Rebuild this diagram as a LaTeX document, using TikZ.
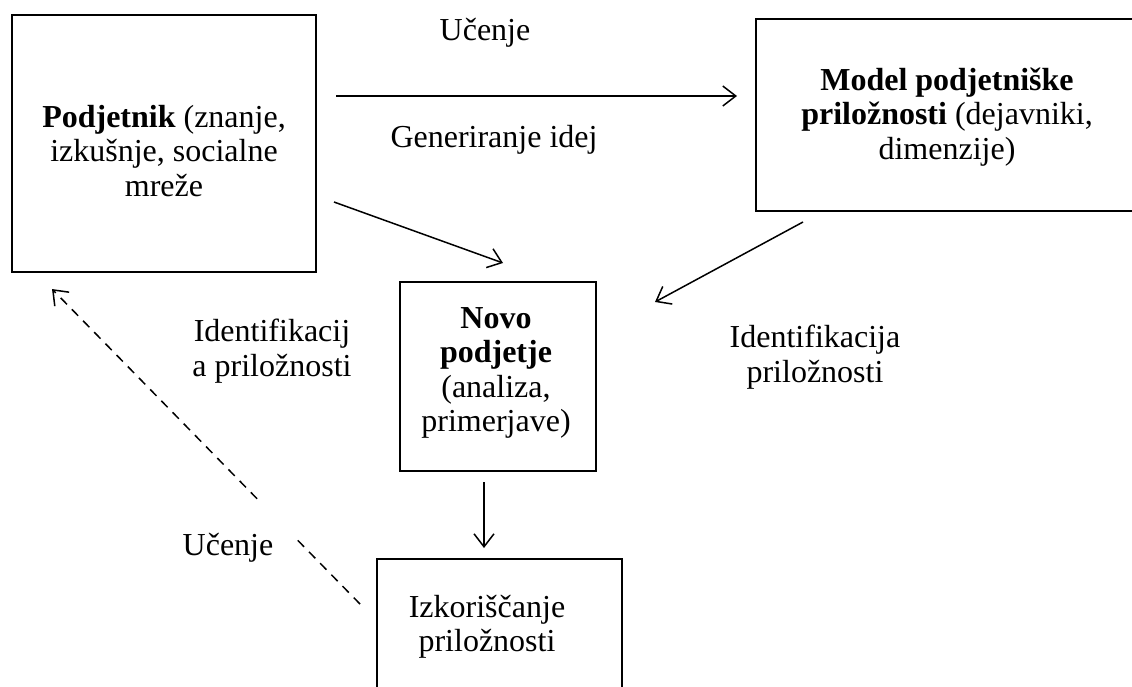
\documentclass[tikz,border=0pt]{standalone}
\usepackage{fontspec}
\setmainfont{Liberation Serif}
\usetikzlibrary{arrows.meta,calc}

\tikzset{
  boxnode/.style={draw=black, line width=1.5pt, rectangle, inner sep=0pt},
  txt/.style={align=center, inner sep=0pt, font=\fontsize{32}{34.5}\selectfont},
  tip/.style={-{Straight Barb[length=13pt,width=20pt,line width=1.5pt]}},
  conn/.style={line width=1.5pt, tip},
  dashline/.style={line width=1.5pt, dash pattern=on 9pt off 7pt}
}

\begin{document}
\begin{tikzpicture}[x=1pt, y=-1pt]
  \path[use as bounding box] (0,0) rectangle (1132,686);
  \clip (0,0) rectangle (1132,686);

  % boxes
  \node[boxnode, minimum width=304pt, minimum height=257pt] (A) at (164,143.5) {};
  \node[boxnode, minimum width=384pt, minimum height=192pt] (B) at (948,115) {};
  \node[boxnode, minimum width=196pt, minimum height=189pt] (C) at (498,376.5) {};
  \node[boxnode, minimum width=245pt, minimum height=160pt] (D) at (499.5,639) {};

  % box texts
  \node[txt] (At) at (164,151) {\textbf{Podjetnik} (znanje,\\izkušnje, socialne\\mreže};
  \node[txt] (Bt) at (947,117) {\textbf{Model podjetniške}\\\textbf{priložnosti} (dejavniki,\\dimenzije)};
  \node[txt] (Ct) at (496,373) {\textbf{Novo}\\\textbf{podjetje}\\(analiza,\\primerjave)};
  \node[txt] (Dt) at (487,627) {Izkoriščanje\\priložnosti};

  % connector labels
  \node[txt] (l1) at (485,33) {Učenje};
  \node[txt] (l2) at (494,140) {Generiranje idej};
  \node[txt] (l3) at (272,351) {Identifikacij\\a priložnosti};
  \node[txt] (l4) at (815,357) {Identifikacija\\priložnosti};
  \node[txt] (l5) at (228,548) {Učenje};

  % connector end points
  \coordinate (a1) at (336,96);
  \coordinate (b1) at (737,96);
  \coordinate (a2) at (334,202);
  \coordinate (c2) at (503,263);
  \coordinate (b3) at (803,222);
  \coordinate (c3) at (655,302);
  \coordinate (c4) at (484,482);
  \coordinate (d4) at (484,548);
  \coordinate (d5) at (360,604);
  \coordinate (a5) at (52,289);
  \coordinate (g1) at ($(d5)!0.205!(a5)$);
  \coordinate (g2) at ($(d5)!0.334!(a5)$);

  % connectors
  \draw[conn] (a1) -- (b1);
  \draw[conn] (a2) -- (c2);
  \draw[conn] (b3) -- (c3);
  \draw[conn] (c4) -- (d4);
  \draw[dashline] (d5) -- (g1);
  \draw[dashline, tip] (g2) -- (a5);
\end{tikzpicture}
\end{document}
